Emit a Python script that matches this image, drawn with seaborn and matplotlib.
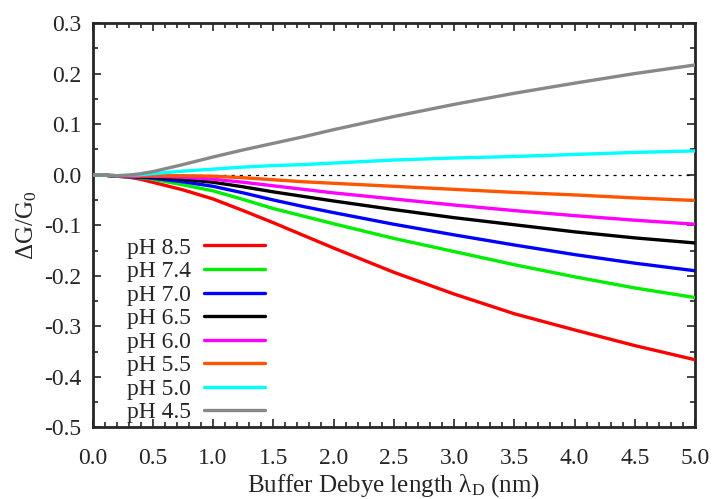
import numpy as np
import pandas as pd
import matplotlib
matplotlib.use("Agg")
import matplotlib.pyplot as plt
from matplotlib.ticker import MultipleLocator
import seaborn as sns

# Debye length (nm)
x = [0, 0.1, 0.2, 0.3, 0.4, 0.5, 0.75, 1.0, 1.25, 1.5, 1.75, 2.0, 2.5, 3.0, 3.5, 4.0, 4.5, 5.0]

ph85 = [0, -0.001, -0.003, -0.005, -0.009, -0.015, -0.030, -0.048, -0.071, -0.095, -0.120, -0.145, -0.193, -0.236, -0.275, -0.307, -0.338, -0.366]
ph74 = [0, -0.001, -0.003, -0.004, -0.006, -0.009, -0.020, -0.032, -0.049, -0.067, -0.082, -0.097, -0.126, -0.152, -0.178, -0.202, -0.224, -0.243]
ph70 = [0, -0.001, -0.003, -0.004, -0.005, -0.007, -0.014, -0.023, -0.036, -0.050, -0.063, -0.075, -0.098, -0.119, -0.139, -0.158, -0.175, -0.190]
ph65 = [0, -0.001, -0.003, -0.003, -0.004, -0.005, -0.009, -0.015, -0.024, -0.034, -0.043, -0.052, -0.069, -0.085, -0.099, -0.113, -0.125, -0.135]
ph60 = [0, -0.001, -0.002, -0.003, -0.003, -0.003, -0.005, -0.009, -0.015, -0.022, -0.029, -0.036, -0.048, -0.060, -0.071, -0.081, -0.090, -0.098]
ph55 = [0, -0.001, -0.002, -0.002, -0.002, -0.002, -0.002, -0.003, -0.006, -0.010, -0.014, -0.017, -0.023, -0.029, -0.035, -0.040, -0.046, -0.051]
ph50 = [0, -0.001, -0.002, -0.001, 0.000, 0.002, 0.007, 0.011, 0.015, 0.018, 0.020, 0.023, 0.029, 0.033, 0.036, 0.040, 0.044, 0.047]
ph45 = [0, -0.001, -0.002, -0.001, 0.002, 0.006, 0.020, 0.035, 0.049, 0.062, 0.075, 0.089, 0.115, 0.139, 0.161, 0.181, 0.200, 0.217]

labels = ["pH 8.5", "pH 7.4", "pH 7.0", "pH 6.5", "pH 6.0", "pH 5.5", "pH 5.0", "pH 4.5"]
series = [ph85, ph74, ph70, ph65, ph60, ph55, ph50, ph45]
colors = ["#ff0000", "#00ee00", "#0000ff", "#000000", "#ff00ff", "#ff5500", "#00ffff", "#888888"]

xticks = [0.0, 0.5, 1.0, 1.5, 2.0, 2.5, 3.0, 3.5, 4.0, 4.5, 5.0]
yticks = [-0.5, -0.4, -0.3, -0.2, -0.1, 0.0, 0.1, 0.2, 0.3]

df = pd.concat(
    [pd.DataFrame({"x": x, "y": s, "label": lab}) for lab, s in zip(labels, series)],
    ignore_index=True,
)

sns.set_style("ticks")
plt.rcParams["font.family"] = ["Liberation Serif", "DejaVu Serif"]
plt.rcParams["mathtext.fontset"] = "custom"
plt.rcParams["mathtext.rm"] = "Liberation Serif"
plt.rcParams["mathtext.it"] = "Liberation Serif:italic"

fig = plt.figure(figsize=(7.14, 4.99), dpi=100)
ax = fig.add_axes([0.1296, 0.1433, 0.8438, 0.8106])

ax.plot([0, 5], [0, 0], color="black", linestyle=(0, (2.5, 4)), linewidth=0.9, zorder=1)

sns.lineplot(data=df, x="x", y="y", hue="label", hue_order=labels,
             palette=dict(zip(labels, colors)), linewidth=2.4, ax=ax,
             sort=False, estimator=None, zorder=3)

ax.set_xlim(0, 5)
ax.set_ylim(-0.5, 0.3)
ax.set_xticks(xticks)
ax.set_yticks(yticks)
ax.set_xticklabels([f"{v:.1f}" for v in xticks])
ax.set_yticklabels([f"{v:.1f}" for v in yticks])
ax.xaxis.set_minor_locator(MultipleLocator(0.1))
ax.yaxis.set_minor_locator(MultipleLocator(0.05))
ax.tick_params(which="both", direction="in", top=True, right=True, labelsize=17, width=1.2)
ax.tick_params(which="major", length=6)
ax.tick_params(axis="x", which="major", pad=15)
ax.tick_params(axis="y", which="major", pad=8)
ax.tick_params(which="minor", length=3.5)
for sp in ax.spines.values():
    sp.set_linewidth(2)
    sp.set_visible(True)

ax.set_xlabel("Buffer Debye length λ$_{\\mathrm{D}}$ (nm)", fontsize=18, labelpad=2)
ax.set_ylabel(r"$\Delta$G/G$_0$", fontsize=18, labelpad=4)

leg = ax.legend(loc="lower left", bbox_to_anchor=(0.033, -0.025), frameon=False,
                markerfirst=False, fontsize=17, handlelength=2.6, handletextpad=0.55,
                labelspacing=0.085, borderaxespad=0.2)

fig.savefig("out.png", dpi=100)
